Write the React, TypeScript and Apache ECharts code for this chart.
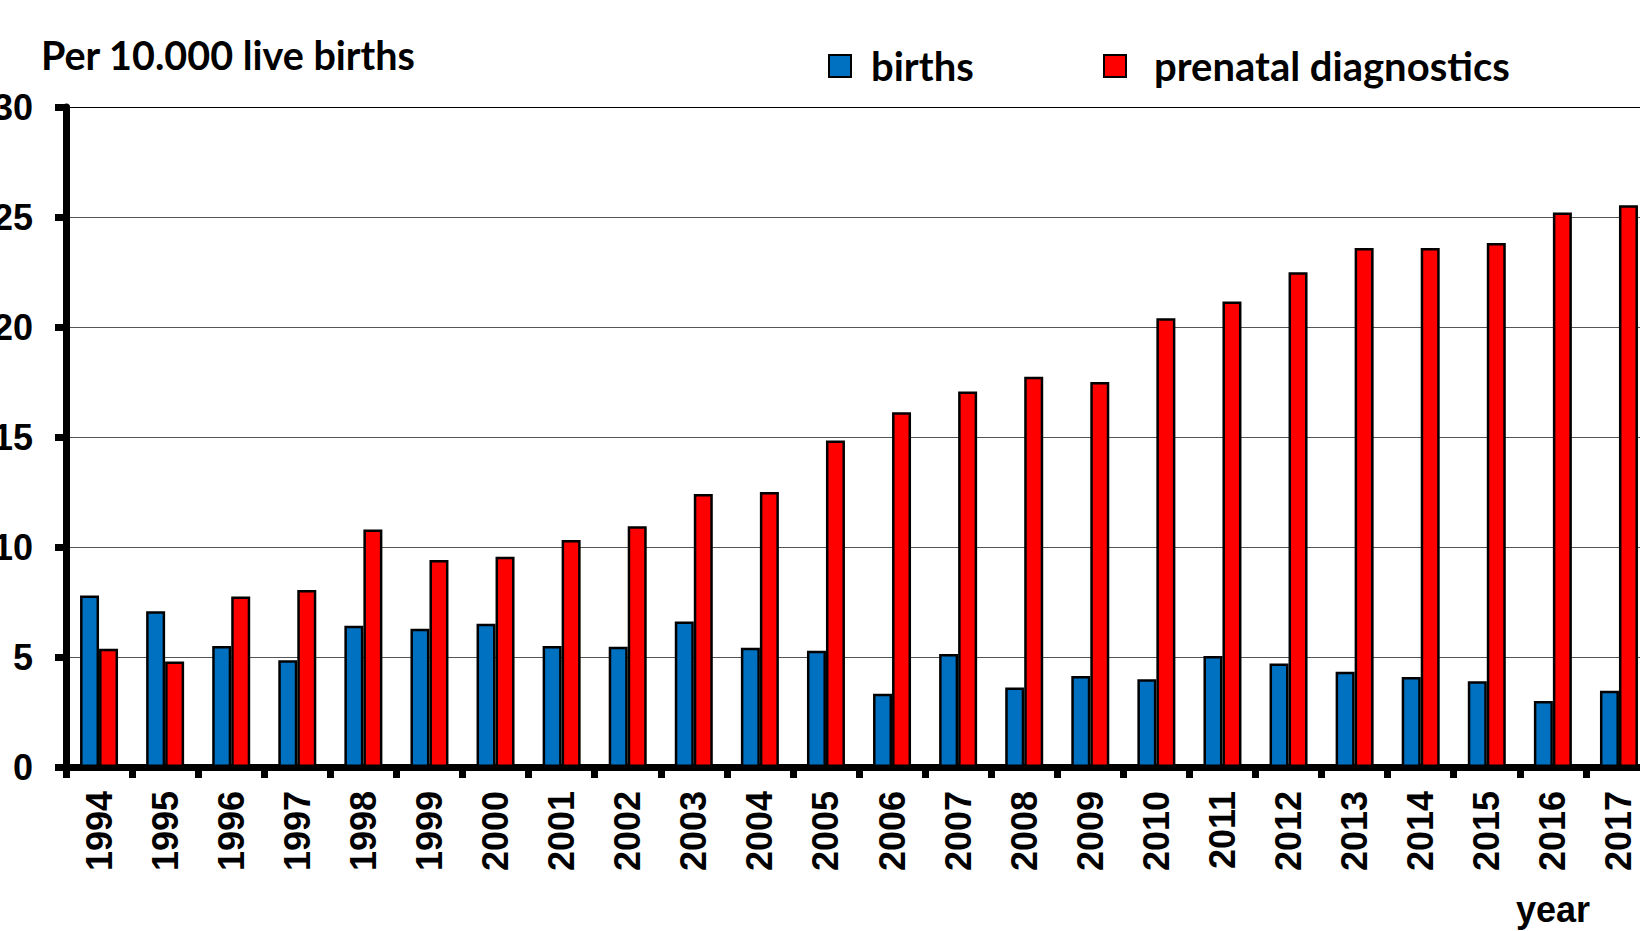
import React, { useEffect, useRef } from "react";
import * as echarts from "echarts";

const years = ["1994","1995","1996","1997","1998","1999","2000","2001","2002","2003","2004","2005","2006","2007","2008","2009","2010","2011","2012","2013","2014","2015","2016","2017"];
const births = [7.8, 7.08, 5.5, 4.85, 6.42, 6.28, 6.51, 5.5, 5.47, 6.61, 5.42, 5.28, 3.33, 5.14, 3.61, 4.14, 3.99, 5.04, 4.71, 4.33, 4.09, 3.9, 3.0, 3.47];
const prenatal = [5.37, 4.8, 7.75, 8.04, 10.8, 9.41, 9.56, 10.32, 10.94, 12.41, 12.5, 14.84, 16.12, 17.07, 17.74, 17.5, 20.4, 21.16, 22.49, 23.59, 23.59, 23.82, 25.2, 25.53];
const yTitle = "Per 10.000 live births";
const xTitle = "year";
const seriesNames = ["births", "prenatal diagnostics"];

export default function App() {
  const ref = useRef<HTMLDivElement>(null);
  useEffect(() => {
    if (!ref.current) return;
    const chart = echarts.init(ref.current, undefined, { renderer: "svg" });
    const calibri = "Lato, 'Noto Sans', sans-serif";
    const arial = "'Liberation Sans', Arial, sans-serif";
    const legendText = (pad: number) => ({
      fontFamily: calibri, fontWeight: "bold", fontSize: 40, lineHeight: 40, color: "#000", padding: [0, 0, 0, pad],
    });
    chart.setOption({
      animation: false,
      backgroundColor: "#ffffff",
      grid: { left: 66, top: 107, bottom: 164, right: -12, containLabel: false, outerBoundsMode: "none" },
      legend: [
        {
          data: [seriesNames[0]], icon: "rect",
          left: 828, top: 46, padding: 0,
          itemWidth: 22, itemHeight: 22,
          itemStyle: { borderColor: "#000", borderWidth: 2 },
          textStyle: legendText(15),
        },
        {
          data: [seriesNames[1]], icon: "rect",
          left: 1103, top: 46, padding: 0,
          itemWidth: 22, itemHeight: 22,
          itemStyle: { borderColor: "#000", borderWidth: 2 },
          textStyle: legendText(23),
        },
      ],
      graphic: [
        { type: "text", left: 41, top: 34, style: { text: yTitle, fontFamily: calibri, fontWeight: "bold", fontSize: 39.5, fill: "#000" } },
        { type: "text", left: 1516, top: 891, style: { text: xTitle, fontFamily: arial, fontWeight: "bold", fontSize: 36, fill: "#000" } },
      ],
      xAxis: {
        type: "category",
        data: years,
        boundaryGap: true,
        axisLine: { lineStyle: { color: "#000", width: 7 } },
        axisTick: { show: true, length: 11, lineStyle: { color: "#000", width: 7 } },
        axisLabel: { rotate: 90, margin: 24, fontFamily: arial, fontWeight: "bold", fontSize: 36, color: "#000" },
        splitLine: { show: false },
      },
      yAxis: {
        type: "value",
        min: 0, max: 30, interval: 5,
        axisLine: { show: true, lineStyle: { color: "#000", width: 7 } },
        axisTick: { show: true, length: 11, lineStyle: { color: "#000", width: 7 } },
        axisLabel: { margin: 33, fontFamily: arial, fontWeight: "bold", fontSize: 36, color: "#000" },
        splitLine: { show: true, lineStyle: { color: ["#555", "#555", "#555", "#555", "#555", "#555", "#000"], width: 1 } },
      },
      series: [
        {
          name: seriesNames[0], type: "bar", data: births,
          barWidth: 19, barGap: "0%",
          itemStyle: { color: "#0070C0", borderColor: "#000", borderWidth: 2.5 },
        },
        {
          name: seriesNames[1], type: "bar", data: prenatal,
          barWidth: 19, barGap: "0%",
          itemStyle: { color: "#FF0000", borderColor: "#000", borderWidth: 2.5 },
        },
      ],
    });
    return () => chart.dispose();
  }, []);
  return <div ref={ref} style={{ position: "fixed", left: 0, top: 0, width: 1640, height: 931 }} />;
}
